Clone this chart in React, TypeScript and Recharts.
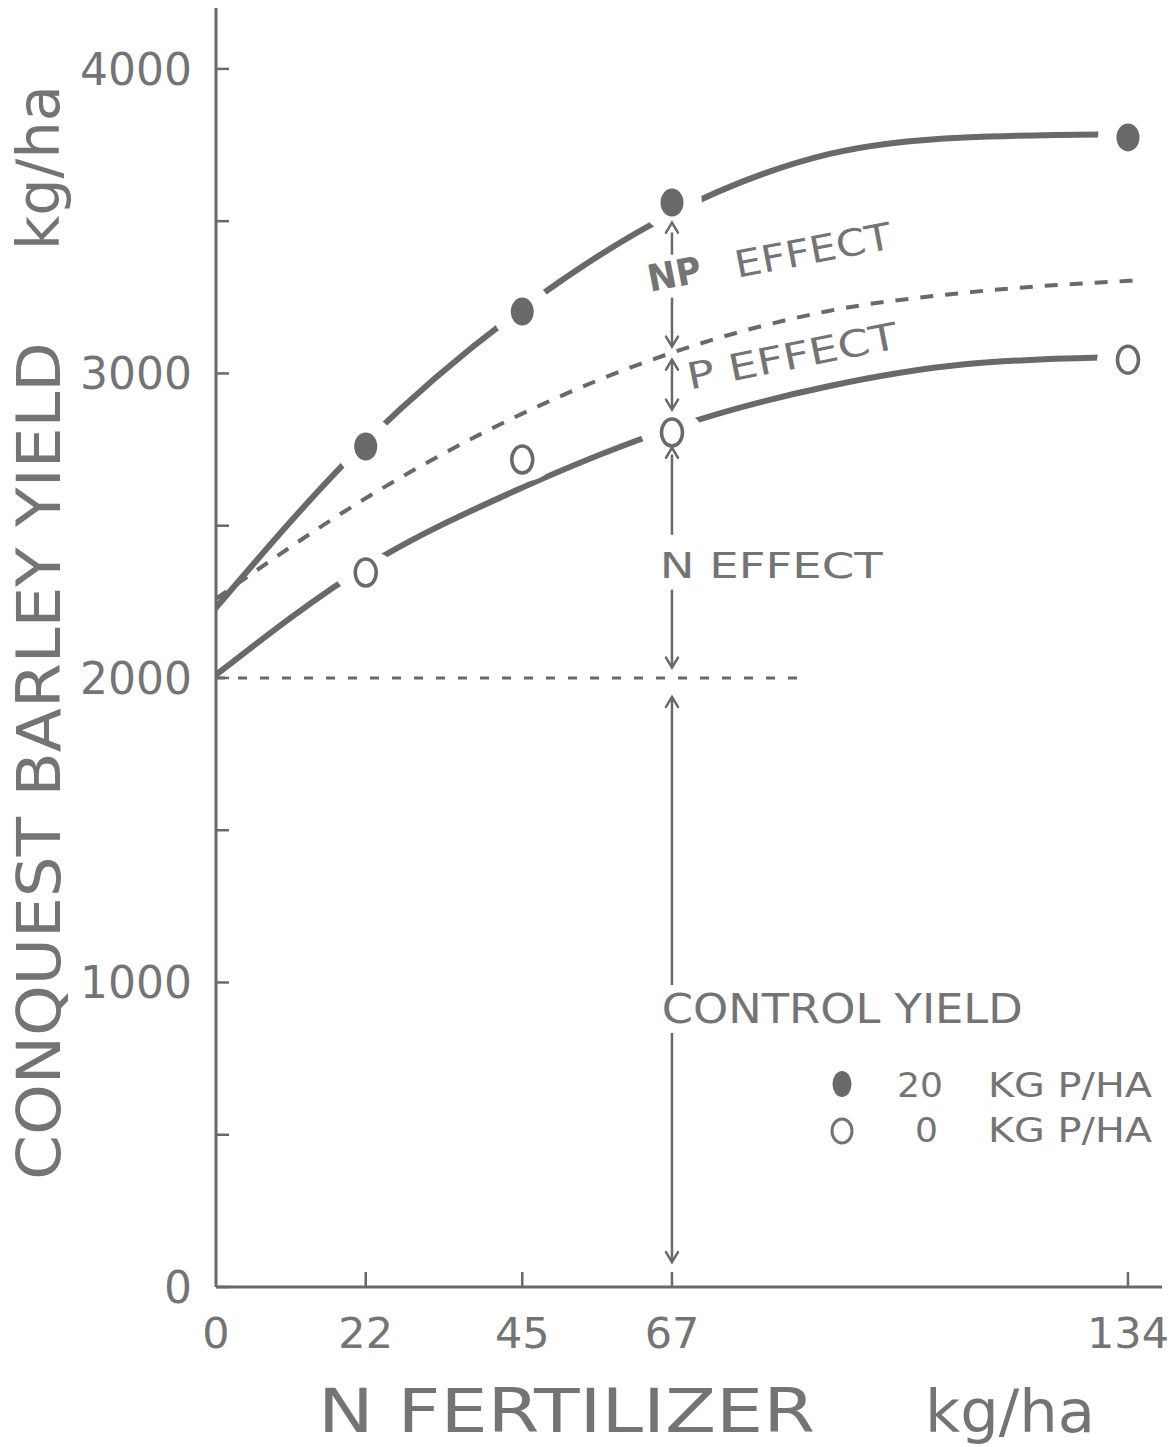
import {
  ComposedChart,
  Customized,
  Line,
  ReferenceDot,
  ReferenceLine,
  Scatter,
  XAxis,
  YAxis,
} from 'recharts';

// N rates (kg/ha) shown on the x axis
const nRates = [0, 22, 45, 67, 134];
// y axis ticks, labels only every 1000
const yieldTicks = [0, 500, 1000, 1500, 2000, 2500, 3000, 3500, 4000];

// measured yields, kg/ha
const markerRates = [22, 45, 67, 134];
const yieldWithP = [2760, 3203, 3561, 3775]; // 20 kg P/ha
const yieldNoP = [2346, 2717, 2806, 3045]; // 0 kg P/ha

// hand drawn response curves
const curveRates = [0, 22, 45, 67, 90, 110, 130];
const npCurve = [2231, 2775, 3213, 3525, 3720, 3775, 3785];
const nCurve = [2010, 2366, 2625, 2820, 2958, 3030, 3052];
const midRates = [0, 22, 45, 67, 90, 110, 135];
const midCurve = [2260, 2590, 2868, 3068, 3205, 3265, 3305];

// control level and the effect arrows at 67 kg N
const controlYield = 2000;
const controlEnd = 86.6;
const arrowRate = 67;
const effectArrows = [
  { top: 3495, bottom: 3390, head: 'top' },
  { top: 3249, bottom: 3088, head: 'bottom' },
  { top: 3045, bottom: 2881, head: 'both' },
  { top: 2756, bottom: 2470, head: 'top' },
  { top: 2290, bottom: 2034, head: 'bottom' },
  { top: 1938, bottom: 992, head: 'top' },
  { top: 834, bottom: 82, head: 'bottom' },
];

const toPoints = (xs: number[], ys: number[]) =>
  xs.map((x, i) => ({ x, y: ys[i] }));

const ink = '#696969';
const textInk = '#747474';
const font = '"DejaVu Sans", sans-serif';

// white patch behind each marker leaves the gap the draughtsman left in the curve
const FilledMark = (p: any) => (
  <g>
    <circle cx={p.cx} cy={p.cy} r={30} fill="#fff" />
    <ellipse cx={p.cx} cy={p.cy} rx={11.5} ry={14} fill={ink} />
  </g>
);

const OpenMark = (p: any) => (
  <g>
    <ellipse cx={p.cx} cy={p.cy} rx={31} ry={22} fill="#fff" />
    <ellipse
      cx={p.cx}
      cy={p.cy}
      rx={10.5}
      ry={13.5}
      fill="#fff"
      stroke={ink}
      strokeWidth={3.5}
    />
  </g>
);

// arrow heads drawn as the end dots of each vertical arrow line
const arrowHead = (head: string) => (p: any) => {
  const up = p.index === 0;
  const show = head === 'both' || (up ? head === 'top' : head === 'bottom');
  if (!show) return <g key={p.key} />;
  const d = up ? 10 : -10;
  return (
    <path
      key={p.key}
      d={`M${p.cx - 6},${p.cy + d} L${p.cx},${p.cy} L${p.cx + 6},${p.cy + d}`}
      fill="none"
      stroke={ink}
      strokeWidth={2.5}
      strokeLinecap="round"
    />
  );
};

const noteShape =
  (label: string, size: number, len: number, angle = 0, bold = false) =>
  (p: any) => (
    <text
      x={p.cx}
      y={p.cy}
      transform={`rotate(${angle} ${p.cx} ${p.cy})`}
      fontFamily={font}
      fontSize={size}
      fontWeight={bold ? 'bold' : 'normal'}
      fill={textInk}
      textLength={len}
      lengthAdjust="spacingAndGlyphs">
      {label}
    </text>
  );

const YTick = ({ x, y, payload }: any) => {
  const axisX = x + 24;
  return (
    <g>
      <line x1={axisX} x2={axisX + 13} y1={y} y2={y} stroke={ink} strokeWidth={2.5} />
      {payload.value % 1000 === 0 && (
        <text
          x={x}
          y={y + 16}
          textAnchor="end"
          fontFamily={font}
          fontSize={44}
          fill={textInk}>
          {payload.value}
        </text>
      )}
    </g>
  );
};

const XTick = ({ x, y, payload }: any) => {
  const axisY = y - 30;
  return (
    <g>
      {payload.value !== 0 && (
        <line x1={x} x2={x} y1={axisY} y2={axisY - 15} stroke={ink} strokeWidth={2.5} />
      )}
      <text
        x={x}
        y={y + 31}
        textAnchor="middle"
        fontFamily={font}
        fontSize={43}
        fill={textInk}>
        {payload.value}
      </text>
    </g>
  );
};

const Titles = () => (
  <g fontFamily={font} fill={textInk}>
    <text
      transform="translate(60 1180) rotate(-90)"
      fontSize={60}
      textLength={838}
      lengthAdjust="spacingAndGlyphs">
      CONQUEST BARLEY YIELD
    </text>
    <text
      transform="translate(59 250) rotate(-90)"
      fontSize={58}
      textLength={165}
      lengthAdjust="spacingAndGlyphs">
      kg/ha
    </text>
    <text x={318} y={1432} fontSize={60} textLength={497} lengthAdjust="spacingAndGlyphs">
      N FERTILIZER
    </text>
    <text x={925} y={1432} fontSize={58} textLength={170} lengthAdjust="spacingAndGlyphs">
      kg/ha
    </text>

    {/* legend */}
    <ellipse cx={842} cy={1084} rx={9.5} ry={13} fill={ink} />
    <text x={897} y={1097} fontSize={34} textLength={46} lengthAdjust="spacingAndGlyphs">
      20
    </text>
    <text x={988} y={1097} fontSize={34} textLength={164} lengthAdjust="spacingAndGlyphs">
      KG P/HA
    </text>
    <ellipse cx={842} cy={1131} rx={10} ry={12} fill="none" stroke={textInk} strokeWidth={3} />
    <text x={915} y={1142} fontSize={34} textLength={23} lengthAdjust="spacingAndGlyphs">
      0
    </text>
    <text x={988} y={1142} fontSize={34} textLength={164} lengthAdjust="spacingAndGlyphs">
      KG P/HA
    </text>
  </g>
);

export default function App() {
  return (
    <div style={{ position: 'absolute', left: 0, top: 0, background: '#fff' }}>
      <ComposedChart
        width={1176}
        height={1447}
        margin={{ top: 8, right: 14, bottom: 130, left: 156 }}>
        <XAxis
          type="number"
          dataKey="x"
          domain={[0, 139]}
          allowDataOverflow
          ticks={nRates}
          interval={0}
          tickLine={false}
          tickSize={0}
          tickMargin={30}
          tick={<XTick />}
          axisLine={{ stroke: ink, strokeWidth: 3 }}
        />
        <YAxis
          type="number"
          dataKey="y"
          domain={[0, 4200]}
          allowDataOverflow
          ticks={yieldTicks}
          interval={0}
          tickLine={false}
          tickSize={0}
          tickMargin={24}
          tick={<YTick />}
          axisLine={{ stroke: ink, strokeWidth: 3 }}
        />

        <ReferenceLine
          segment={[
            { x: 0, y: controlYield },
            { x: controlEnd, y: controlYield },
          ]}
          stroke={ink}
          strokeWidth={3}
          strokeDasharray="9 13"
        />

        <Line
          data={toPoints(midRates, midCurve)}
          dataKey="y"
          type="monotone"
          stroke={ink}
          strokeWidth={4}
          strokeDasharray="13 12"
          dot={false}
          isAnimationActive={false}
        />
        <Line
          data={toPoints(curveRates, npCurve)}
          dataKey="y"
          type="monotone"
          stroke={ink}
          strokeWidth={6}
          strokeLinecap="round"
          dot={false}
          isAnimationActive={false}
        />
        <Line
          data={toPoints(curveRates, nCurve)}
          dataKey="y"
          type="monotone"
          stroke={ink}
          strokeWidth={6}
          strokeLinecap="round"
          dot={false}
          isAnimationActive={false}
        />

        <Scatter
          data={toPoints(markerRates, yieldWithP)}
          shape={FilledMark}
          isAnimationActive={false}
        />
        <Scatter
          data={toPoints(markerRates, yieldNoP)}
          shape={OpenMark}
          isAnimationActive={false}
        />

        {effectArrows.map((a, i) => (
          <Line
            key={i}
            data={[
              { x: arrowRate, y: a.top },
              { x: arrowRate, y: a.bottom },
            ]}
            dataKey="y"
            type="linear"
            stroke={ink}
            strokeWidth={2.5}
            dot={arrowHead(a.head)}
            activeDot={false}
            isAnimationActive={false}
          />
        ))}

        <ReferenceDot x={63.8} y={3268} r={0} shape={noteShape('NP', 37, 54, -10.8, true)} />
        <ReferenceDot x={76.6} y={3314} r={0} shape={noteShape('EFFECT', 37, 159, -10.8)} />
        <ReferenceDot x={69.6} y={2946} r={0} shape={noteShape('P EFFECT', 37, 214, -11.3)} />
        <ReferenceDot x={65.2} y={2328} r={0} shape={noteShape('N EFFECT', 36, 223)} />
        <ReferenceDot x={65.5} y={867} r={0} shape={noteShape('CONTROL YIELD', 40, 361)} />

        <Customized component={Titles} />
      </ComposedChart>
    </div>
  );
}
